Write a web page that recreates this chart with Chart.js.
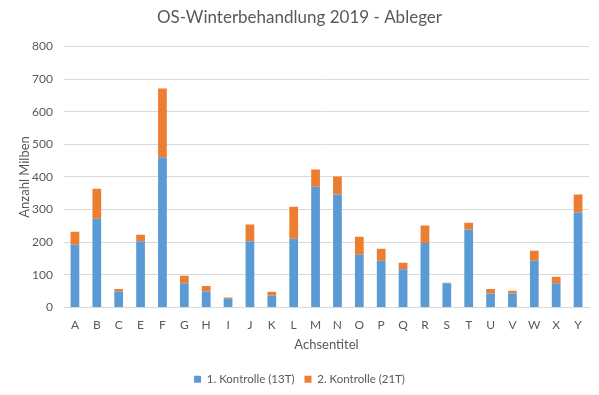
<!DOCTYPE html>
<html>
<head>
<meta charset="utf-8">
<script src="https://cdn.jsdelivr.net/npm/chart.js@4"></script>
<style>
  html, body { margin: 0; padding: 0; background: #fff; }
  #wrap { width: 599px; height: 395px; }
</style>
</head>
<body>
<div id="wrap"><canvas id="c" width="599" height="395"></canvas></div>
<script>
const categories = ["A","B","C","E","F","G","H","I","J","K","L","M","N","O","P","Q","R","S","T","U","V","W","X","Y"];
const kontrolle1 = [192,272,49,203,460,74,49,27,203,37,211,370,346,162,143,117,198,74,239,43,43,143,74,291];
const kontrolle2 = [40,92,8,20,211,23,17,4,51,11,98,53,55,55,37,20,53,2,21,14,8,31,20,55];
const yTicks = [0,100,200,300,400,500,600,700,800];

const FONT = "Lato, 'Open Sans', sans-serif";
const TXT = "#595959";

new Chart(document.getElementById('c'), {
  type: 'bar',
  data: {
    labels: categories,
    datasets: [
      { label: "1. Kontrolle (13T)", data: kontrolle1, backgroundColor: "#5B9BD5",
        barPercentage: 0.4, categoryPercentage: 1.0 },
      { label: "2. Kontrolle (21T)", data: kontrolle2, backgroundColor: "#ED7D31",
        barPercentage: 0.4, categoryPercentage: 1.0 }
    ]
  },
  options: {
    responsive: false,
    animation: false,
    layout: { padding: { left: 0, right: 0, top: 0, bottom: 0 } },
    plugins: {
      title: {
        display: true,
        text: "OS-Winterbehandlung 2019 - Ableger",
        color: TXT,
        font: { family: FONT, size: 17, weight: 'normal' },
        padding: { top: 7, bottom: 19 }
      },
      legend: {
        position: 'bottom',
        labels: {
          color: TXT,
          font: { family: FONT, size: 11.5 },
          boxWidth: 7, boxHeight: 7, padding: 10
        }
      },
      tooltip: { enabled: false }
    },
    scales: {
      x: {
        stacked: true,
        grid: { display: false, drawTicks: false },
        border: { display: true, color: "#d9d9d9" },
        ticks: { color: TXT, font: { family: FONT, size: 12 }, padding: 10, autoSkip: false, maxRotation: 0 },
        title: { display: true, text: "Achsentitel", color: TXT, font: { family: FONT, size: 13 },
                 padding: { top: 0, bottom: 11 } },
        afterFit: s => { s.height = 56; }
      },
      y: {
        stacked: true,
        min: 0, max: 800,
        afterBuildTicks: s => { s.ticks = yTicks.map(v => ({ value: v })); },
        grid: { color: "#d9d9d9", drawTicks: false },
        border: { display: false },
        ticks: { color: TXT, font: { family: FONT, size: 12 }, padding: 11 },
        title: { display: true, text: "Anzahl Milben", color: TXT, font: { family: FONT, size: 13 },
                 padding: { top: 17, bottom: 0 } },
        afterFit: s => { s.width = 64; }
      },
      yRight: {
        position: 'right',
        min: 0, max: 800,
        grid: { display: false, drawTicks: false },
        border: { display: false },
        ticks: { display: false },
        afterFit: s => { s.width = 10; }
      }
    }
  }
});
</script>
</body>
</html>
